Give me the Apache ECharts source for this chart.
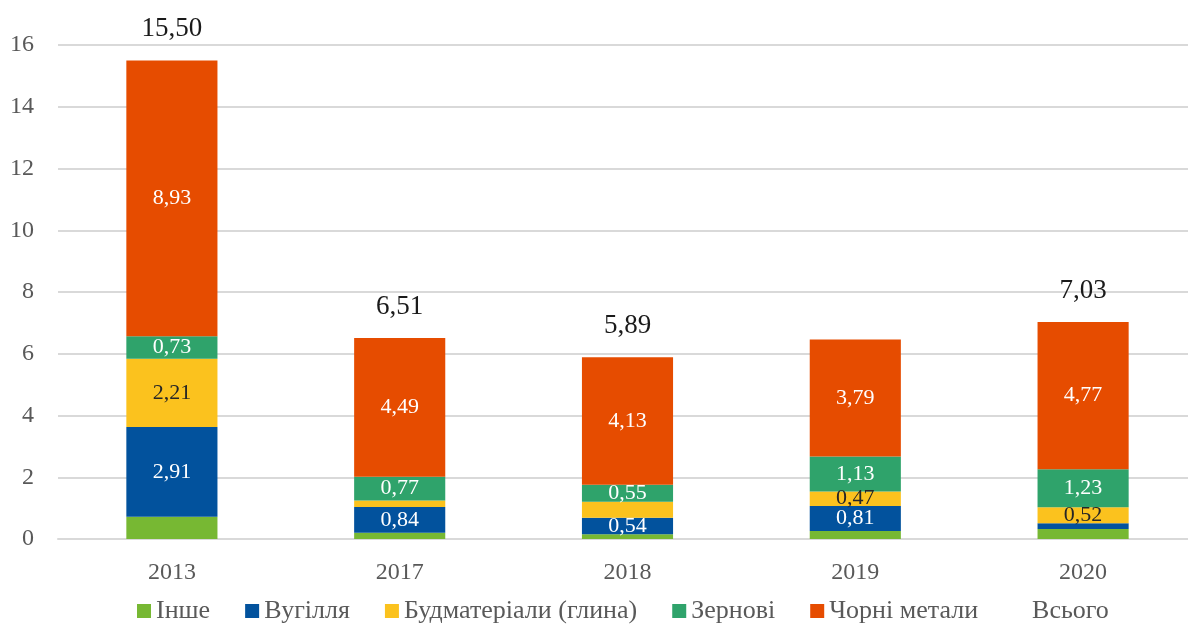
<!DOCTYPE html>
<html>
<head>
<meta charset="utf-8">
<script src="https://cdn.jsdelivr.net/npm/echarts@6/dist/echarts.min.js"></script>
<style>
  html, body { margin: 0; padding: 0; background: #fff; overflow: hidden; }
  #chart { width: 1197px; height: 625px; }
</style>
</head>
<body>
<div id="chart"></div>
<script>
const years = ['2013', '2017', '2018', '2019', '2020'];
const inshe = [0.72, 0.20, 0.15, 0.26, 0.32];
const vuhillia = [2.91, 0.84, 0.54, 0.81, 0.19];
const budmat = [2.21, 0.21, 0.52, 0.47, 0.52];
const zernovi = [0.73, 0.77, 0.55, 1.13, 1.23];
const chorni = [8.93, 4.49, 4.13, 3.79, 4.77];
const totals = [15.50, 6.51, 5.89, '-', 7.03];
const yTicks = [0, 2, 4, 6, 8, 10, 12, 14, 16];

// which points carry no value label (as in the original Excel chart)
const hiddenLabels = {
  'Інше': [0, 1, 2, 3, 4],
  'Вугілля': [4],
  'Будматеріали (глина)': [1, 2],
  'Зернові': [],
  'Чорні метали': []
};

const font = 'Liberation Serif';
const fmt = v => String(v.toFixed(2)).replace('.', ',');

const chart = echarts.init(document.getElementById('chart'));

function seg(name, values, color, labelColor) {
  return {
    name: name,
    type: 'bar',
    stack: 'total',
    barWidth: '40%',
    data: values,
    itemStyle: { color: color },
    label: {
      show: true,
      position: 'inside',
      color: labelColor,
      fontFamily: font,
      fontSize: 22,
      formatter: p => hiddenLabels[name].indexOf(p.dataIndex) >= 0 ? '' : fmt(p.value)
    }
  };
}

chart.setOption({
  animation: false,
  grid: { left: 58, right: 0, top: 45, bottom: 86 },
  legend: {
    top: 593,
    left: 132,
    itemWidth: 14,
    itemHeight: 14,
    itemGap: 35,
    icon: 'rect',
    textStyle: { fontFamily: font, fontSize: 26, color: '#595959' },
    data: ['Інше', 'Вугілля', 'Будматеріали (глина)', 'Зернові', 'Чорні метали', 'Всього']
  },
  xAxis: {
    type: 'category',
    data: years,
    axisTick: { show: false },
    axisLine: { lineStyle: { color: '#d9d9d9', width: 2 } },
    axisLabel: { fontFamily: font, fontSize: 24, color: '#595959', margin: 22 }
  },
  yAxis: {
    type: 'value',
    min: yTicks[0],
    max: yTicks[yTicks.length - 1],
    interval: 2,
    axisLabel: { fontFamily: font, fontSize: 24, color: '#595959', margin: 24 },
    splitLine: { lineStyle: { color: '#d9d9d9', width: 2 } }
  },
  series: [
    seg('Інше', inshe, '#77b833', '#fff'),
    seg('Вугілля', vuhillia, '#02529d', '#fff'),
    seg('Будматеріали (глина)', budmat, '#fbc21e', '#262626'),
    seg('Зернові', zernovi, '#2fa36b', '#fff'),
    seg('Чорні метали', chorni, '#e64c00', '#fff'),
    {
      name: 'Всього',
      type: 'bar',
      barWidth: '40%',
      barGap: '-100%',
      z: 1,
      data: totals,
      itemStyle: { color: 'rgba(0,0,0,0)' },
      label: {
        show: true,
        position: 'top',
        distance: 18,
        color: '#1a1a1a',
        fontFamily: font,
        fontSize: 27,
        formatter: p => fmt(p.value)
      }
    }
  ]
});
</script>
</body>
</html>
